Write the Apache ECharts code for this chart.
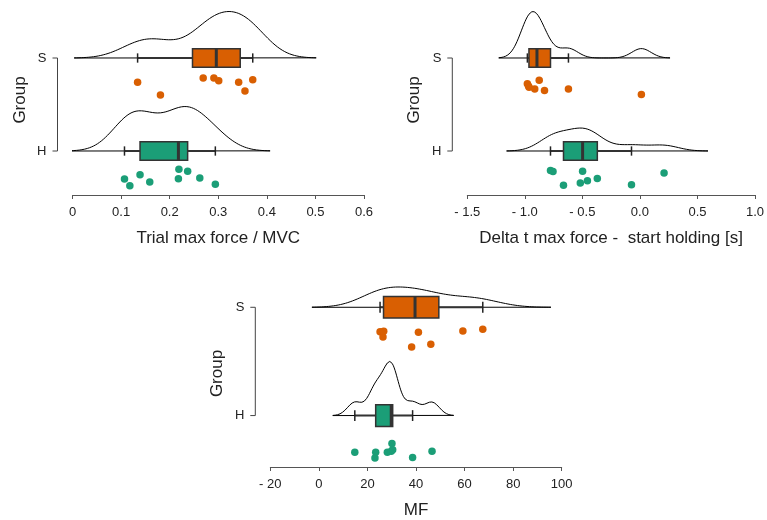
<!DOCTYPE html>
<html>
<head>
<meta charset="utf-8">
<script src="https://cdn.jsdelivr.net/npm/echarts@6/dist/echarts.min.js"></script>
<style>
  html, body { margin: 0; padding: 0; background: #fff; }
  #chart { width: 767px; height: 520px; }
</style>
</head>
<body>
<div id="chart"></div>
<script>
// Groups, top to bottom
const groups = ['S', 'H'];
const groupColors = ['#D95F02', '#1B9E77'];

// Trial max force / MVC
const forceS = [0.134, 0.181, 0.269, 0.291, 0.301, 0.342, 0.355, 0.371];
const forceH = [0.107, 0.118, 0.139, 0.159, 0.218, 0.219, 0.237, 0.262, 0.294];
const forceJitterS = [0.261, 0.398, 0.215, 0.215, 0.244, 0.261, 0.355, 0.233];
const forceJitterH = [0.301, 0.373, 0.255, 0.333, 0.298, 0.197, 0.218, 0.290, 0.358];

// Delta t max force - start holding [s]
const deltaS = [-0.978, -0.968, -0.963, -0.914, -0.875, -0.829, -0.621, 0.013];
const deltaH = [-0.777, -0.755, -0.664, -0.518, -0.498, -0.456, -0.370, -0.073, 0.210];
const deltaJitterS = [0.278, 0.300, 0.315, 0.332, 0.240, 0.350, 0.332, 0.393];
const deltaJitterH = [0.210, 0.221, 0.367, 0.343, 0.217, 0.321, 0.296, 0.364, 0.236];

// MF
const mfS = [25.2, 26.4, 26.7, 38.2, 41.0, 46.1, 59.3, 67.5];
const mfH = [14.8, 23.1, 23.4, 28.2, 29.8, 30.1, 30.4, 38.6, 46.6];
const mfJitterS = [0.227, 0.275, 0.221, 0.366, 0.230, 0.342, 0.218, 0.203];
const mfJitterH = [0.339, 0.391, 0.339, 0.339, 0.330, 0.257, 0.315, 0.387, 0.330];

// Axis ranges and ticks
const forceTicks = [0, 0.6, 0.1];
const deltaTicks = [-1.5, 1.0, 0.5];
const mfTicks = [-20, 100, 20];

const axisTitles = ['Trial max force / MVC', 'Delta t max force -  start holding [s]', 'MF'];

const FONT = '"Liberation Sans", Arial, sans-serif';

// ---- statistics helpers ----
function quantile(sorted, p) {
  const h = (sorted.length - 1) * p;
  const lo = Math.floor(h), hi = Math.ceil(h);
  return sorted[lo] + (h - lo) * (sorted[hi] - sorted[lo]);
}
function boxStats(values) {
  const s = values.slice().sort((a, b) => a - b);
  const q1 = quantile(s, 0.25), med = quantile(s, 0.5), q3 = quantile(s, 0.75);
  const iqr = q3 - q1;
  const lo = s.find(v => v >= q1 - 1.5 * iqr);
  const hi = s.slice().reverse().find(v => v <= q3 + 1.5 * iqr);
  return [q1, med, q3, lo, hi];
}
function bandwidth(values) {
  const s = values.slice().sort((a, b) => a - b);
  const n = s.length;
  const mean = s.reduce((a, b) => a + b, 0) / n;
  const sd = Math.sqrt(s.reduce((a, b) => a + (b - mean) * (b - mean), 0) / (n - 1));
  const iqr = quantile(s, 0.75) - quantile(s, 0.25);
  return 0.9 * Math.min(sd, iqr / 1.34) * Math.pow(n, -0.2);
}
function density(values, steps) {
  const bw = bandwidth(values);
  const lo = Math.min(...values) - 3 * bw;
  const hi = Math.max(...values) + 3 * bw;
  const k = 1 / (values.length * bw * Math.sqrt(2 * Math.PI));
  const pts = [];
  for (let i = 0; i <= steps; i++) {
    const t = lo + (hi - lo) * i / steps;
    let d = 0;
    for (const v of values) { const z = (t - v) / bw; d += Math.exp(-0.5 * z * z); }
    pts.push([t, d * k]);
  }
  return pts;
}

// ---- panels ----
const panels = [
  { sets: [forceS, forceH], jitter: [forceJitterS, forceJitterH], ticks: forceTicks,
    grid: { left: 72.5, top: 5, width: 291.5, height: 190 }, yRange: [-0.473, 1.570],
    fmt: v => String(+v.toFixed(1)) },
  { sets: [deltaS, deltaH], jitter: [deltaJitterS, deltaJitterH], ticks: deltaTicks,
    grid: { left: 467.3, top: 5, width: 292, height: 190 }, yRange: [-0.473, 1.570],
    fmt: v => (v < 0 ? '- ' + Math.abs(v).toFixed(1) : v.toFixed(1)) },
  { sets: [mfS, mfH], jitter: [mfJitterS, mfJitterH], ticks: mfTicks,
    grid: { left: 270.3, top: 280, width: 291.4, height: 190 }, yRange: [-0.475, 1.252],
    fmt: v => (v < 0 ? '- ' + Math.abs(v) : String(v)) }
];

// baselines: S at 1, H at 0
const baseOf = gi => 1 - gi;

const grids = [], xAxes = [], yAxes = [], series = [];

panels.forEach((p, pi) => {
  grids.push(Object.assign({ containLabel: false }, p.grid));
  xAxes.push({
    type: 'value', gridIndex: pi, position: 'bottom',
    min: p.ticks[0], max: p.ticks[1], interval: p.ticks[2],
    name: axisTitles[pi], nameLocation: 'middle', nameGap: 35,
    nameTextStyle: { fontSize: 17, color: '#222', fontFamily: FONT },
    axisLine: { show: true, onZero: false, lineStyle: { color: '#555', width: 1 } },
    axisTick: { show: true, length: 4, lineStyle: { color: '#555' } },
    axisLabel: { fontSize: 13, color: '#222', fontFamily: FONT, margin: 11, formatter: p.fmt },
    splitLine: { show: false }
  });
  yAxes.push({
    type: 'value', gridIndex: pi, min: p.yRange[0], max: p.yRange[1],
    name: 'Group', nameLocation: 'middle', nameGap: 44,
    nameTextStyle: { fontSize: 17, color: '#222', fontFamily: FONT },
    axisLine: { show: false, onZero: false }, axisTick: { show: false },
    axisLabel: { show: false }, splitLine: { show: false }
  });

  // density outlines, scaled so the tallest peak in the panel reaches half a group step
  const dens = p.sets.map(v => density(v, 300));
  const peak = Math.max(...dens.map(d => Math.max(...d.map(q => q[1]))));
  dens.forEach((d, gi) => {
    const base = baseOf(gi);
    const outline = d.map(q => [q[0], base + 0.5 * q[1] / peak]);
    outline.push([d[d.length - 1][0], base], [d[0][0], base]);
    series.push({
      type: 'line', xAxisIndex: pi, yAxisIndex: pi, data: outline,
      symbol: 'none', silent: true, z: 1,
      lineStyle: { color: '#000', width: 1 }
    });
  });

  // box plots
  series.push({
    type: 'custom', xAxisIndex: pi, yAxisIndex: pi, z: 3, silent: true, clip: false,
    data: p.sets.map((v, gi) => ({
      value: boxStats(v).concat([baseOf(gi)]),
      itemStyle: { color: groupColors[gi] }
    })),
    renderItem: (params, api) => {
      const q1 = api.value(0), med = api.value(1), q3 = api.value(2);
      const lo = api.value(3), hi = api.value(4), base = api.value(5);
      const pLo = api.coord([lo, base]), pHi = api.coord([hi, base]);
      const top = api.coord([q1, base + 0.1])[1], bot = api.coord([q1, base - 0.1])[1];
      const capT = api.coord([lo, base + 0.05])[1], capB = api.coord([lo, base - 0.05])[1];
      const x1 = api.coord([q1, base])[0], x3 = api.coord([q3, base])[0], xm = api.coord([med, base])[0];
      const dark = '#333';
      return {
        type: 'group',
        children: [
          { type: 'line', shape: { x1: pLo[0], y1: pLo[1], x2: pHi[0], y2: pHi[1] }, style: { stroke: dark, lineWidth: 2 } },
          { type: 'line', shape: { x1: pLo[0], y1: capT, x2: pLo[0], y2: capB }, style: { stroke: '#222', lineWidth: 1.5 } },
          { type: 'line', shape: { x1: pHi[0], y1: capT, x2: pHi[0], y2: capB }, style: { stroke: '#222', lineWidth: 1.5 } },
          { type: 'rect', shape: { x: x1, y: top, width: x3 - x1, height: bot - top },
            style: { fill: api.visual('color'), stroke: dark, lineWidth: 1.5 } },
          { type: 'line', shape: { x1: xm, y1: top, x2: xm, y2: bot }, style: { stroke: dark, lineWidth: 3 } }
        ]
      };
    }
  });

  // raw observations
  p.sets.forEach((v, gi) => {
    series.push({
      type: 'scatter', xAxisIndex: pi, yAxisIndex: pi, z: 4, silent: true,
      symbolSize: 7.5, itemStyle: { color: groupColors[gi], opacity: 1 },
      data: v.map((x, i) => [x, baseOf(gi) - p.jitter[gi][i]])
    });
  });

  // group bracket with S / H labels
  series.push({
    type: 'custom', xAxisIndex: pi, yAxisIndex: pi, z: 2, silent: true, clip: false,
    data: [[p.ticks[0]]],
    renderItem: (params, api) => {
      const xs = api.value(0);
      const pS = api.coord([xs, baseOf(0)]), pH = api.coord([xs, baseOf(1)]);
      const bx = pS[0] - 15;
      const stroke = { stroke: '#444', lineWidth: 1 };
      const label = (txt, y) => ({
        type: 'text',
        style: { text: txt, x: bx - 11, y: y, align: 'right', verticalAlign: 'middle',
                 fill: '#222', fontSize: 13, fontFamily: FONT }
      });
      return {
        type: 'group',
        children: [
          { type: 'polyline', shape: { points: [[bx - 5, pS[1]], [bx, pS[1]], [bx, pH[1]], [bx - 5, pH[1]]] }, style: Object.assign({ fill: null }, stroke) },
          label(groups[0], pS[1]),
          label(groups[1], pH[1])
        ]
      };
    }
  });
});

const chart = echarts.init(document.getElementById('chart'), null, { renderer: 'canvas' });
chart.setOption({
  animation: false,
  backgroundColor: '#fff',
  grid: grids,
  xAxis: xAxes,
  yAxis: yAxes,
  series: series
});
</script>
</body>
</html>
